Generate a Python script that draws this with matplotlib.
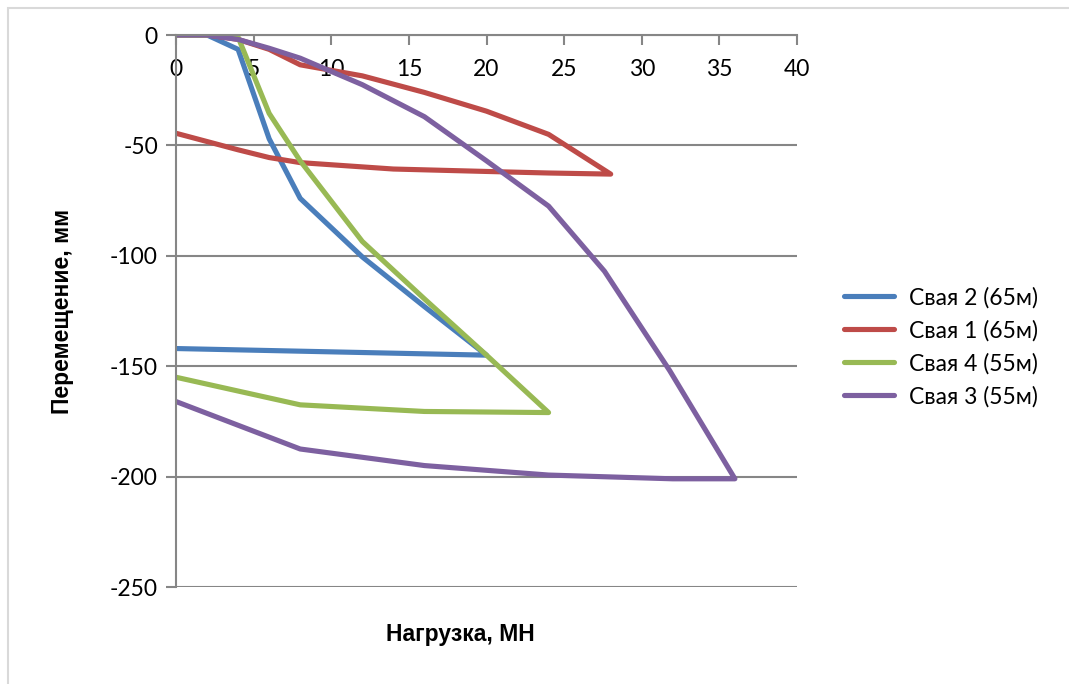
import matplotlib.pyplot as plt
from matplotlib.patches import Rectangle

# load (MN) vs settlement (mm) for each pile, loading then unloading
x2 = [0, 2, 4, 6, 8, 12, 16, 20, 0]
y2 = [0, 0, -6.5, -47, -74, -100.5, -123, -145, -142]

x1 = [0, 2, 4, 6, 8, 12, 16, 20, 24, 28, 24, 20, 14, 8, 6, 4, 0]
y1 = [0, 0, -2, -6.5, -13.5, -18.5, -26, -34.5, -45, -63,
      -62.5, -61.8, -60.7, -57.8, -55.5, -52, -44.5]

x4 = [0, 2, 4, 6, 8, 12, 16, 20, 24, 16, 8, 0]
y4 = [0, 0, -1, -35.5, -57, -93.5, -119.5, -145, -171, -170.5, -167.5, -155]

x3 = [0, 2, 4, 6, 8, 12, 16, 20, 24, 27.6, 31.8, 36, 32, 24, 16, 8, 0]
y3 = [0, 0, -2, -6, -10.5, -22.5, -37, -57, -77.5, -107, -152, -201,
      -201, -199.3, -195, -187.5, -166]

names = ['Свая 2 (65м)', 'Свая 1 (65м)', 'Свая 4 (55м)', 'Свая 3 (55м)']
colors = ['#4A7EBB', '#BE4B48', '#98B954', '#7D60A0']

plt.rcParams['font.family'] = ['Lato', 'DejaVu Sans']
plt.rcParams['axes.unicode_minus'] = False

fig = plt.figure(figsize=(10.69, 6.84), dpi=100)
fig.patches.append(Rectangle((8/1069, -0.1), 1.2, 1 - 8/684 + 0.1,
                             transform=fig.transFigure, fill=False,
                             edgecolor='#D9D9D9', linewidth=1.5))
ax = fig.add_axes([176/1069, 1 - 587/684, (797-176)/1069, (587-35)/684])

for xs, ys, nm, c in zip([x2, x1, x4, x3], [y2, y1, y4, y3], names, colors):
    ax.plot(xs, ys, color=c, lw=3.7, label=nm, solid_joinstyle='round',
            solid_capstyle='round')

ax.set_xlim(0, 40)
ax.set_ylim(-250, 0)
ax.set_xticks(range(0, 41, 5))
ax.set_yticks(range(-250, 1, 50))
ax.grid(axis='y', color='#868686', lw=1.5)
ax.set_axisbelow(True)

ax.spines['top'].set_visible(False)
ax.spines['right'].set_visible(False)
ax.spines['bottom'].set_position(('data', 0))
for s in ['bottom', 'left']:
    ax.spines[s].set_color('#868686')
    ax.spines[s].set_linewidth(1.5)
ax.tick_params(colors='#868686', labelcolor='black', labelsize=16.5,
               length=7, width=1.5)
ax.tick_params(axis='x', pad=10)
ax.tick_params(axis='y', pad=6)

fig.text(460/1069, 1 - 635/684, 'Нагрузка, МН', ha='center', va='center',
         fontsize=16.5, fontweight='bold', family='Liberation Sans')
fig.text(63/1069, 1 - 311/684, 'Перемещение, мм', ha='center', va='center',
         rotation=90, fontsize=16.5, fontweight='bold', family='Liberation Sans')

ax.legend(loc='center left', bbox_to_anchor=(823/1069, 1 - 347/684),
          bbox_transform=fig.transFigure, frameon=False, fontsize=16.5,
          handlelength=2.2, handletextpad=0.65, labelspacing=0.5)

fig.savefig('out.png', dpi=100)
